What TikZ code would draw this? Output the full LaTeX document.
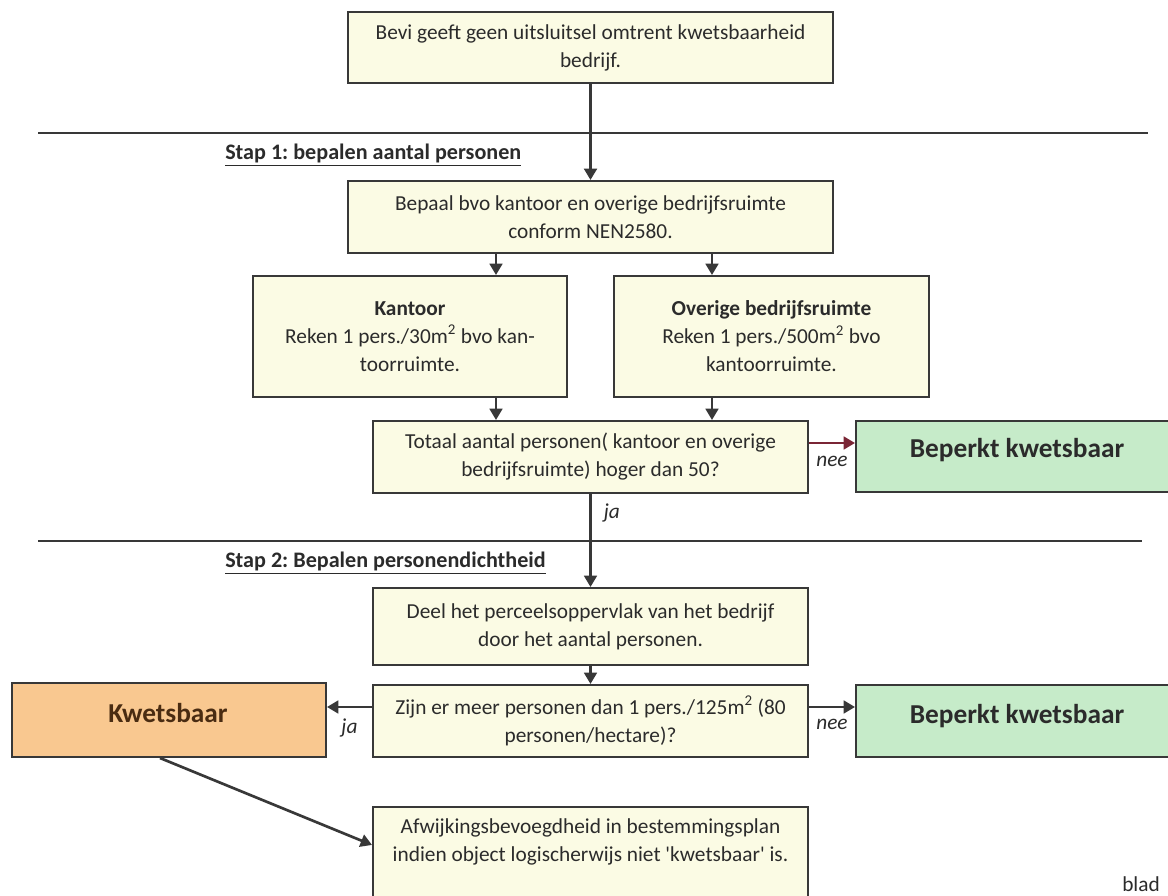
\documentclass[tikz,border=0pt]{standalone}
\usepackage{fontspec}
\setmainfont{Carlito}
\usetikzlibrary{arrows.meta}
\definecolor{boxfill}{HTML}{FBFBE4}
\definecolor{greenfill}{HTML}{C6EBC9}
\definecolor{orangefill}{HTML}{F9C890}
\definecolor{ink}{HTML}{2B2B2B}
\definecolor{edge}{HTML}{383838}
\definecolor{nolink}{HTML}{7A2535}
\definecolor{brownink}{HTML}{4A2C12}
\frenchspacing

\begin{document}
\begin{tikzpicture}[x=0.75pt,y=-0.75pt,
  txt/.style={font=\fontsize{16}{21}\selectfont, text=ink},
  stepbox/.style={draw=edge, line width=1.5pt, fill=boxfill, inner sep=0pt, align=center, txt},
  greenbox/.style={draw=edge, line width=1.5pt, fill=greenfill, inner sep=0pt},
  orangebox/.style={draw=edge, line width=1.5pt, fill=orangefill, inner sep=0pt},
  bigtxt/.style={font=\fontsize{20.5}{24}\selectfont\bfseries, text=ink, inner sep=0pt},
  steplabel/.style={font=\fontsize{16.6}{20}\selectfont\bfseries, text=ink, inner sep=0pt},
  lab/.style={font=\fontsize{16}{20}\selectfont\itshape, text=ink, inner sep=0pt},
  rule/.style={draw=edge, line width=1.4pt},
  arr/.style={draw=edge, line width=2pt, -{Triangle[width=9.5pt,length=8.5pt]}}]

\useasboundingbox (0,0) rectangle (1168,896);
\clip (0,0) rectangle (1168,896);
\fill[white] (0,0) rectangle (1168,896);

% section rules and step headings
\draw[rule] (38,133) -- (1148,133);
\draw[rule] (38,541) -- (1142,541);
\node[steplabel, anchor=west] (s1) at (225,155) {\underline{Stap 1: bepalen aantal personen}};
\node[steplabel, anchor=west] (s2) at (225,563) {\underline{Stap 2: Bepalen personendichtheid}};

% reference columns for the split arrows
\coordinate (cL) at (496,0);
\coordinate (cR) at (712,0);
\coordinate (rowA) at (0,443);
\coordinate (rowB) at (0,707);

% boxes
\node[stepbox, minimum width=363.75pt, minimum height=53.25pt] (top) at (590.5,47.5)
  {Bevi geeft geen uitsluitsel omtrent kwetsbaarheid\\bedrijf.};
\node[stepbox, minimum width=363.75pt, minimum height=54pt] (bvo) at (590.5,217)
  {Bepaal bvo kantoor en overige bedrijfsruimte\\conform NEN2580.};
\node[stepbox, minimum width=235.5pt, minimum height=90.75pt] (kant) at (410,336.5)
  {\textbf{Kantoor}\\Reken 1 pers./30m\textsuperscript{2} bvo kan-\\toorruimte.};
\node[stepbox, minimum width=236.25pt, minimum height=90.75pt] (over) at (771.5,336.5)
  {\textbf{Overige bedrijfsruimte}\\Reken 1 pers./500m\textsuperscript{2} bvo\\kantoorruimte.};
\node[stepbox, minimum width=326.25pt, minimum height=54pt] (tot) at (590.5,457)
  {Totaal aantal personen( kantoor en overige\\bedrijfsruimte) hoger dan 50?};
\node[greenbox, minimum width=243pt, minimum height=53.25pt] (bk1) at (1018,456.5) {};
\node[bigtxt] (bk1t) at (1017,450) {Beperkt kwetsbaar};

\node[stepbox, minimum width=326.25pt, minimum height=57.75pt] (deel) at (590.5,626.5)
  {Deel het perceelsoppervlak van het bedrijf\\door het aantal personen.};
\node[stepbox, minimum width=326.25pt, minimum height=54pt] (zijn) at (590.5,721)
  {Zijn er meer personen dan 1 pers./125m\textsuperscript{2} (80\\personen/hectare)?};
\node[orangebox, minimum width=235.5pt, minimum height=55.5pt] (kw) at (169,720) {};
\node[bigtxt, text=brownink] (kwt) at (168,713) {Kwetsbaar};
\node[greenbox, minimum width=243pt, minimum height=54pt] (bk2) at (1018,721) {};
\node[bigtxt] (bk2t) at (1017,716) {Beperkt kwetsbaar};

\node[stepbox, minimum width=326.25pt, minimum height=84.75pt] (afw) at (590.5,863.5) {};
\node[txt, align=center, anchor=north, inner sep=0pt] (afwt) at (590.5,818)
  {Afwijkingsbevoegdheid in bestemmingsplan\\indien object logischerwijs niet \textquotesingle kwetsbaar\textquotesingle{} is.};

\node[txt, anchor=west, inner sep=0pt] (blad) at (1122,884) {blad};

% connectors
\draw[arr, line width=2.6pt] (top) -- (bvo);
\draw[arr] (bvo.south -| cL) -- (kant.north -| cL);
\draw[arr] (bvo.south -| cR) -- (over.north -| cR);
\draw[arr] (kant.south -| cL) -- (tot.north -| cL);
\draw[arr] (over.south -| cR) -- (tot.north -| cR);
\draw[arr, draw=nolink] (tot.east |- rowA) -- (bk1.west |- rowA)
  node[lab, pos=0.5, below=9pt] {nee};
\draw[arr] (tot) -- (deel) node[lab, pos=0.2, right=9pt] {ja};
\draw[arr] (deel) -- (zijn);
\draw[arr] (zijn.west |- rowB) -- (kw.east |- rowB)
  node[lab, pos=0.5, below=8pt] {ja};
\draw[arr] (zijn.east |- rowB) -- (bk2.west |- rowB)
  node[lab, pos=0.5, below=8pt] {nee};
\draw[arr] ([xshift=-6.75pt]kw.south) -- ([yshift=13.9pt]afw.west);
\end{tikzpicture}
\end{document}
